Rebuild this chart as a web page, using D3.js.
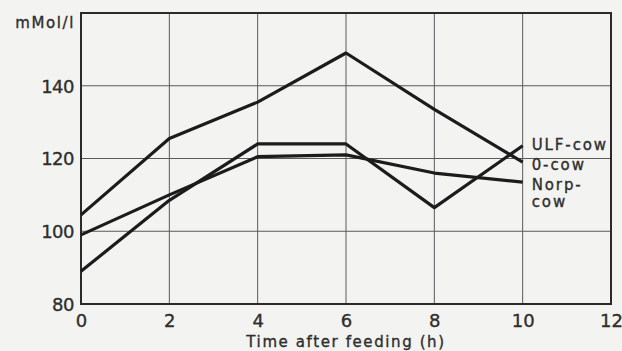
<!DOCTYPE html>
<html>
<head>
<meta charset="utf-8">
<script src="https://cdn.jsdelivr.net/npm/d3@7"></script>
<style>
  html, body { margin: 0; padding: 0; background: #f3f3f1; }
  svg { display: block; }
  text { font-family: "DejaVu Sans", sans-serif; fill: #2e2e2e; stroke: #2e2e2e; stroke-width: 0.35px; }
</style>
</head>
<body>
<svg id="chart" width="622" height="351"></svg>
<script>
// Hours after feeding
const hours = [0, 2, 4, 6, 8, 10];
// Concentration (mMol/l) per cow group
const oCow   = [104.5, 125.5, 135.5, 149, 133.5, 119];
const ulfCow = [89, 108.5, 124, 124, 106.5, 123.5];
const norpCow = [99, 110, 120.5, 121, 116, 113.5];

const xTicks = [0, 2, 4, 6, 8, 10, 12];
const yTicks = [80, 100, 120, 140];
const yLabel = "mMol/l";
const xLabel = "Time after feeding  (h)";

const seriesList = [
  { name: "O-cow", values: oCow },
  { name: "ULF-cow", values: ulfCow },
  { name: "Norp-cow", values: norpCow }
];

const svg = d3.select("#chart");
const x = d3.scaleLinear().domain([0, 12]).range([81, 611]);
const y = d3.scaleLinear().domain([80, 160]).range([304, 13]);

// Grid lines
const grid = svg.append("g").attr("stroke", "#5a5a5a").attr("stroke-width", 1);
grid.selectAll("line.v").data(xTicks.filter(d => d > 0 && d < 12)).join("line")
  .attr("x1", d => x(d)).attr("x2", d => x(d))
  .attr("y1", y(160)).attr("y2", y(80));
grid.selectAll("line.h").data(yTicks.filter(d => d > 80)).join("line")
  .attr("x1", x(0)).attr("x2", x(12))
  .attr("y1", d => y(d)).attr("y2", d => y(d));

// Frame
svg.append("rect")
  .attr("x", x(0)).attr("y", y(160))
  .attr("width", x(12) - x(0)).attr("height", y(80) - y(160))
  .attr("fill", "none").attr("stroke", "#2a2a2a").attr("stroke-width", 2);

// Axes (labels only; the frame draws the axis lines)
const xAxis = svg.append("g").attr("transform", `translate(0,${y(80)})`)
  .call(d3.axisBottom(x).tickValues(xTicks).tickSize(0).tickPadding(0));
xAxis.select(".domain").remove();
xAxis.selectAll("text").attr("font-size", 18).attr("fill", "#2e2e2e")
  .attr("dy", null).attr("y", 23);

const yAxis = svg.append("g").attr("transform", `translate(${x(0)},0)`)
  .call(d3.axisLeft(y).tickValues(yTicks).tickSize(0).tickPadding(7));
yAxis.select(".domain").remove();
yAxis.selectAll("text").attr("font-size", 18).attr("fill", "#2e2e2e")
  .attr("letter-spacing", "-0.5px").attr("dy", "0.36em");

svg.append("text").attr("x", 75).attr("y", 28).attr("text-anchor", "end")
  .attr("font-size", 15).attr("letter-spacing", "1.6px").text(yLabel);

svg.append("text").attr("x", 346).attr("y", 347).attr("text-anchor", "middle")
  .attr("font-size", 15).attr("letter-spacing", "1.6px").text(xLabel);

// Series lines
const line = d3.line().x((d, i) => x(hours[i])).y(d => y(d));
svg.append("g").selectAll("path").data(seriesList).join("path")
  .attr("d", d => line(d.values))
  .attr("fill", "none").attr("stroke", "#1c1c1c").attr("stroke-width", 3.2)
  .attr("stroke-linejoin", "round");

// Series labels
const labels = [
  { text: "ULF-cow", yy: 150 },
  { text: "0-cow", yy: 170 },
  { text: "Norp-", yy: 190 },
  { text: "cow", yy: 207 }
];
svg.append("g").selectAll("text").data(labels).join("text")
  .attr("x", x(10) + 9).attr("y", d => d.yy)
  .attr("font-size", 15).attr("letter-spacing", "1.9px")
  .text(d => d.text);
</script>
</body>
</html>
